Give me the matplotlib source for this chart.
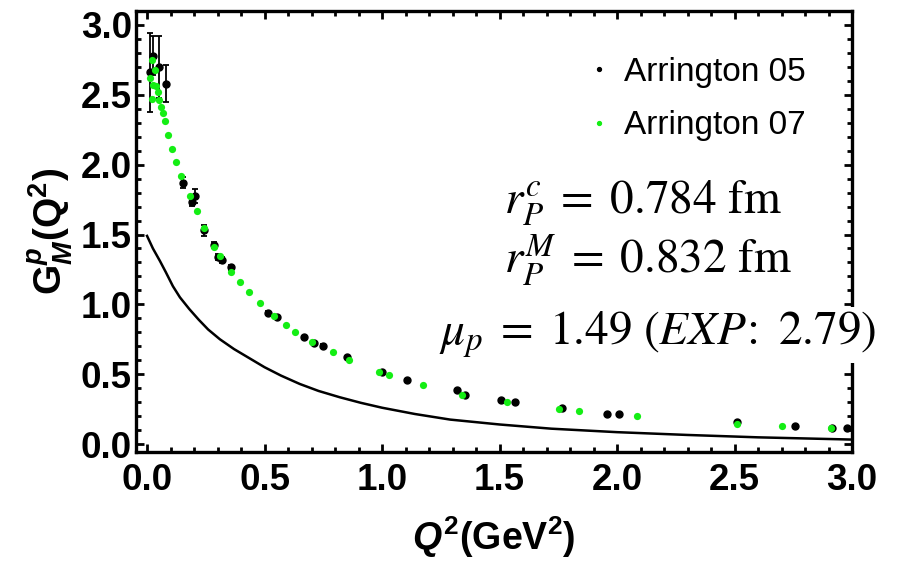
import matplotlib
matplotlib.use("Agg")
import matplotlib.pyplot as plt
from matplotlib.ticker import MultipleLocator, FormatStrFormatter
from matplotlib.lines import Line2D
import numpy as np

plt.rcParams['font.family'] = ['Liberation Sans', 'DejaVu Sans']
plt.rcParams['mathtext.fontset'] = 'custom'
plt.rcParams['mathtext.rm'] = 'Liberation Sans:bold'
plt.rcParams['mathtext.it'] = 'Liberation Sans:bold:italic'
plt.rcParams['mathtext.bf'] = 'Liberation Sans:bold'

# ---- data ----
# Arrington 05 (black, with error bars)
a05_q2 = [0.013, 0.027, 0.052, 0.081, 0.151, 0.19, 0.205, 0.244, 0.283, 0.30, 0.321,
          0.357, 0.515, 0.553, 0.67, 0.709, 0.748, 0.852, 0.998, 1.107, 1.318,
          1.353, 1.505, 1.566, 1.764, 1.957, 2.01, 2.51, 2.756, 2.915, 2.98]
a05_g = [2.66, 2.78, 2.70, 2.58, 1.87, 1.735, 1.775, 1.53, 1.424, 1.34, 1.317,
         1.265, 0.936, 0.911, 0.764, 0.72, 0.704, 0.62, 0.518, 0.458, 0.387,
         0.351, 0.315, 0.303, 0.255, 0.212, 0.212, 0.155, 0.131, 0.117, 0.112]
a05_err = [0.28, 0.14, 0.22, 0.13, 0.04, 0.03, 0.05, 0.04, 0.02, 0.02, 0.02,
           0.02, 0.015, 0.015, 0.01, 0.01, 0.01, 0.01, 0.01, 0.008, 0.008,
           0.008, 0.008, 0.008, 0.006, 0.006, 0.006, 0.005, 0.005, 0.005, 0.005]

# Arrington 07 (green)
a07_q2 = [0.013, 0.02, 0.02, 0.027, 0.034, 0.04, 0.048, 0.052, 0.06, 0.07, 0.077,
          0.09, 0.108, 0.125, 0.145, 0.183, 0.212, 0.244, 0.283, 0.311, 0.357,
          0.397, 0.436, 0.482, 0.542, 0.59, 0.628, 0.70, 0.79, 0.861, 0.989,
          1.03, 1.176, 1.342, 1.531, 1.754, 1.84, 2.084, 2.51, 2.70, 2.91]
a07_g = [2.62, 2.75, 2.47, 2.57, 2.68, 2.56, 2.52, 2.46, 2.41, 2.37, 2.31,
         2.21, 2.11, 2.02, 1.92, 1.775, 1.67, 1.544, 1.41, 1.346, 1.233,
         1.157, 1.09, 1.007, 0.916, 0.852, 0.804, 0.732, 0.656, 0.601, 0.513,
         0.494, 0.422, 0.351, 0.303, 0.248, 0.236, 0.20, 0.143, 0.131, 0.112]

# model curve
curve_q2 = [0.0, 0.025, 0.055, 0.08, 0.11, 0.14, 0.18, 0.22, 0.26, 0.31, 0.37,
            0.43, 0.50, 0.57, 0.65, 0.73, 0.82, 0.91, 1.0, 1.14, 1.29, 1.5,
            1.72, 2.0, 2.3, 2.6, 3.0]
curve_g = [1.49, 1.40, 1.31, 1.23, 1.13, 1.05, 0.966, 0.89, 0.82, 0.75, 0.68,
           0.62, 0.55, 0.49, 0.43, 0.38, 0.335, 0.295, 0.26, 0.215, 0.175, 0.14,
           0.11, 0.085, 0.065, 0.048, 0.032]

x_ticks = [0.0, 0.5, 1.0, 1.5, 2.0, 2.5, 3.0]
y_ticks = [0.0, 0.5, 1.0, 1.5, 2.0, 2.5, 3.0]
labels = ['Arrington 05', 'Arrington 07']
annot = [r'$r_P^c\;=\;0.784\ \mathrm{fm}$',
         r'$r_P^M\;=\;0.832\ \mathrm{fm}$',
         r'$\mu_p\;=\;1.49\ (\mathit{EXP}\!\mathrm{:}\ 2.79)$']

GREEN = '#14ee14'

fig = plt.figure(figsize=(9, 5.61), dpi=100)
ax = fig.add_axes([136/900, 109/561, 716/900, 441/561])

ax.plot(curve_q2, curve_g, color='black', lw=1.8, zorder=2)
ax.errorbar(a05_q2, a05_g, yerr=a05_err, fmt='o', color='black', ms=5,
            elinewidth=1.3, capsize=2.5, capthick=1.3, zorder=3)
ax.plot(a07_q2, a07_g, 'o', color=GREEN, ms=5.2, mec='none', zorder=4)

ax.set_xlim(-0.047, 3.0)
ax.set_ylim(-0.057, 3.10)
ax.set_xticks(x_ticks)
ax.set_yticks(y_ticks)
ax.xaxis.set_minor_locator(MultipleLocator(0.1))
ax.yaxis.set_minor_locator(MultipleLocator(0.1))
ax.xaxis.set_major_formatter(FormatStrFormatter('%.1f'))
ax.yaxis.set_major_formatter(FormatStrFormatter('%.1f'))
ax.tick_params(which='both', direction='in', top=True, right=True, width=2)
ax.tick_params(which='major', length=6, labelsize=26.5)
ax.tick_params(axis='x', which='major', pad=8)
ax.tick_params(axis='y', which='major', pad=3)
ax.tick_params(which='minor', length=3.5)
for lab in ax.get_xticklabels() + ax.get_yticklabels():
    lab.set_fontweight('bold')
for s in ax.spines.values():
    s.set_linewidth(2.4)

ax.set_xlabel(r'$\mathit{Q}^{2}$(GeV$^{2}$)', fontsize=27, fontweight='bold', labelpad=12)
ax.set_ylabel(r'G$^{\mathit{p}}_{\mathit{M}}$(Q$^{2}$)', fontsize=28, fontweight='bold', labelpad=4)

handles = [Line2D([], [], ls='none', marker='o', color='black', ms=2.8),
           Line2D([], [], ls='none', marker='o', color=GREEN, ms=2.8)]
ax.legend(handles, labels, loc='upper left', bbox_to_anchor=(572/900, 1-40/561),
          bbox_transform=fig.transFigure, frameon=False, fontsize=24,
          handlelength=0.6, handletextpad=0.45, labelspacing=0.68, borderpad=0)

xs = [643/900, 648/900, 658/900]
ys = [1-213/561, 1-273/561, 1-345/561]
for i, (t, x, y) in enumerate(zip(annot, xs, ys)):
    kw = {}
    if i == 2:
        kw['bbox'] = dict(facecolor='white', edgecolor='none', pad=2)
    fig.text(x, y, t, ha='center', va='baseline', fontsize=34,
             math_fontfamily='stix', zorder=10, **kw)

fig.savefig('out.png', dpi=100)
